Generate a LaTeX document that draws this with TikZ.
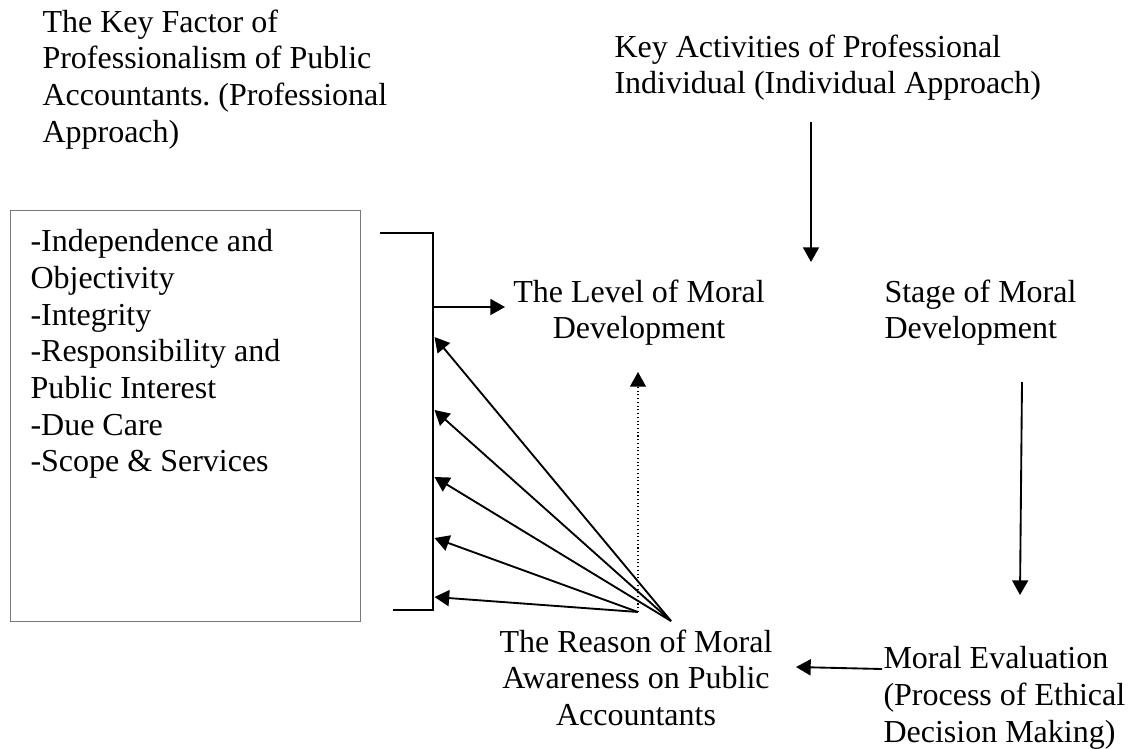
\documentclass[tikz,border=0pt]{standalone}
\usepackage{fontspec}
\setmainfont{Liberation Serif}
\usetikzlibrary{arrows.meta}
\frenchspacing

\definecolor{boxgray}{RGB}{120,120,120}

\tikzset{every picture/.style={line width=0.75pt}}
\tikzset{
  txt/.style={inner sep=0pt, font=\fontsize{24pt}{27.5pt}\selectfont},
  arr/.style={line width=1.4pt, -{Triangle[length=11pt,width=12pt]}},
  dotarr/.style={line width=0.8pt, dotted, -{Triangle[length=11pt,width=12pt]}},
}

\begin{document}
\begin{tikzpicture}[x=0.75pt,y=0.75pt,yscale=-1,xscale=1]
\useasboundingbox (0,0) rectangle (1132,749);

% Text Node
\node [txt, anchor=north west, align=left] (factor) at (42,9) {The Key Factor of\\Professionalism of Public\\Accountants. (Professional\\Approach)};
% Text Node
\node [txt, anchor=north west, align=left] (activities) at (614,34) {Key Activities of Professional\\Individual (Individual Approach)};
% Text Node
\node [txt, anchor=north, align=center] (level) at (639,279) {The Level of Moral\\Development};
% Text Node
\node [txt, anchor=north west, align=left] (stage) at (884,279) {Stage of Moral\\Development};
% Text Node
\node [txt, anchor=north, align=center] (reason) at (636,629) {The Reason of Moral\\Awareness on Public\\Accountants};
% Text Node
\node [txt, anchor=north west, align=left] (evaluation) at (883,646) {Moral Evaluation\\(Process of Ethical\\Decision Making)};

%Shape: Rectangle
\draw [color=boxgray] (10,210) rectangle (360,621);
% Text Node
\node [txt, anchor=north west, align=left] (factors) at (30,229) {-Independence and\\Objectivity\\-Integrity\\-Responsibility and\\Public Interest\\-Due Care\\-Scope \& Services};

%Bracket
\coordinate (brtop) at (433,233);
\coordinate (brbot) at (433,610);
\draw [line width=1.4pt] (380,233) -- (brtop) -- (brbot) -- (393,610);

%Straight Lines
\coordinate (brmid) at (433,307);
\coordinate (levelin) at (505,307);
\draw [arr] (brmid) -- (levelin);

% fan of arrows back to the bracket
\coordinate (fanA) at (671,621);
\coordinate (fanB) at (638,612);
\foreach \n/\y in {1/337,2/410,3/477,4/538,5/597}
  \coordinate (br\n) at (434.5,\y);
\foreach \n in {1,2,3}
  \draw [arr] (fanA) -- (br\n);
\foreach \n in {4,5}
  \draw [arr] (fanB) -- (br\n);

%Dotted line
\coordinate (levelbot) at (638,372);
\draw [dotarr] (fanB) -- (levelbot);

%Straight Lines
\coordinate (actout) at (811,122);
\coordinate (actin) at (811,262);
\draw [arr] (actout) -- (actin);
%Straight Lines
\coordinate (stageout) at (1022,382);
\coordinate (evalin) at (1020,595);
\draw [arr] (stageout) -- (evalin);
%Straight Lines
\coordinate (evalout) at (882,669);
\coordinate (reasonin) at (796,667);
\draw [arr] (evalout) -- (reasonin);

\end{tikzpicture}
\end{document}
